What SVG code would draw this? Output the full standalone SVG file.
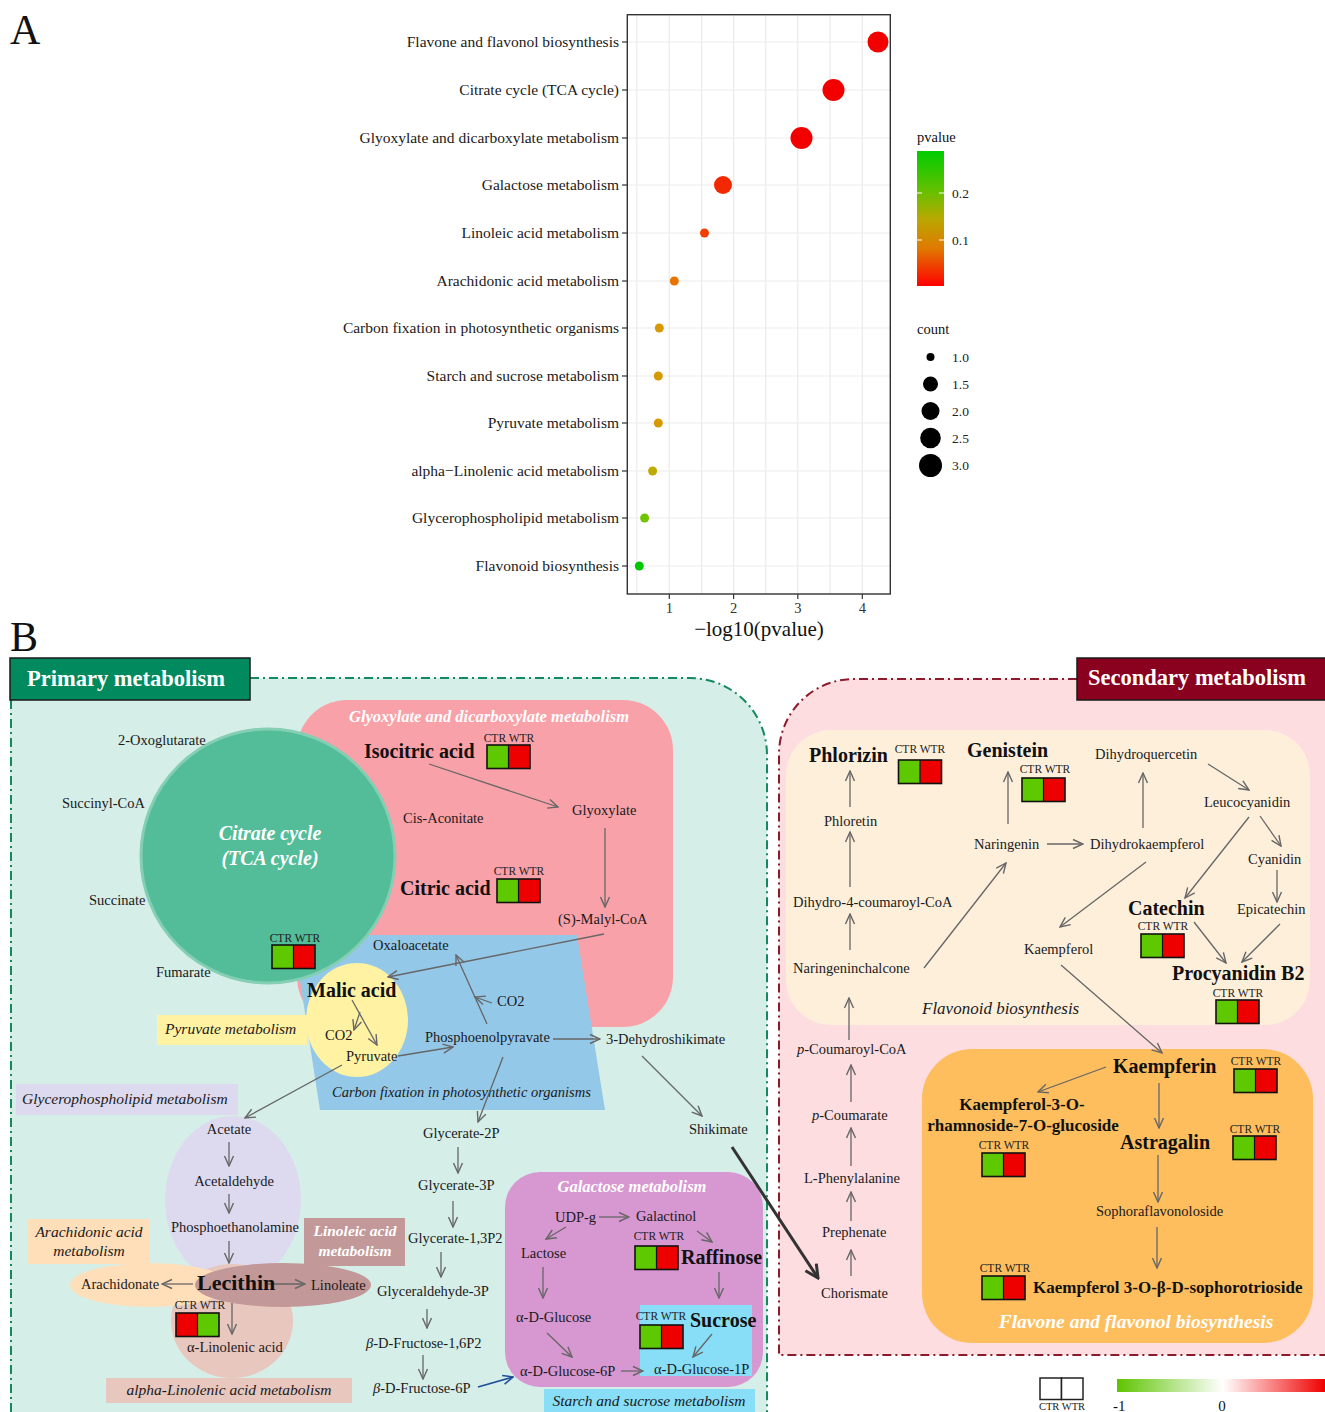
<svg xmlns="http://www.w3.org/2000/svg" xmlns:xlink="http://www.w3.org/1999/xlink" width="1325" height="1412" viewBox="0 0 1325 1412">
<defs>
<style>
text{font-family:"Liberation Serif","Times New Roman",serif}
.n{font-size:14.5px;fill:#1a1a1a}
.bd{font-size:20px;font-weight:bold;fill:#111}
.ct{font-size:11.5px;fill:#222;text-anchor:middle}
.pi{font-size:15.5px;font-style:italic;fill:#1a1a1a}
.pw{font-style:italic;font-weight:bold;fill:#fff}
.ax{font-size:15.5px;fill:#1a1a1a;text-anchor:end}
.mid{text-anchor:middle}
.ar{fill:none;stroke:#666;stroke-width:1.3;marker-end:url(#ah)}
.grid{stroke:#EBEBEB;stroke-width:1.2}
.tick{stroke:#333;stroke-width:1.2}
</style>
<marker id="ah" viewBox="0 0 12 12" refX="11" refY="6" markerWidth="12" markerHeight="12" orient="auto" markerUnits="userSpaceOnUse">
<path d="M1,1.5 L11,6 L1,10.5" fill="none" stroke="#666" stroke-width="1.4"/>
</marker>
<marker id="ahk" viewBox="0 0 16 16" refX="14" refY="8" markerWidth="16" markerHeight="16" orient="auto" markerUnits="userSpaceOnUse">
<path d="M1,1.5 L14,8 L1,14.5" fill="none" stroke="#333" stroke-width="3"/>
</marker>
<marker id="ahb" viewBox="0 0 12 12" refX="11" refY="6" markerWidth="12" markerHeight="12" orient="auto" markerUnits="userSpaceOnUse">
<path d="M1,1.5 L11,6 L1,10.5" fill="none" stroke="#1F4E9A" stroke-width="1.6"/>
</marker>
<linearGradient id="pv" x1="0" y1="0" x2="0" y2="1">
<stop offset="0" stop-color="#00CC00"/>
<stop offset="0.3" stop-color="#66C000"/>
<stop offset="0.5" stop-color="#B8A800"/>
<stop offset="0.72" stop-color="#E07A00"/>
<stop offset="1" stop-color="#FF0000"/>
</linearGradient>
<linearGradient id="fc" x1="0" y1="0" x2="1" y2="0">
<stop offset="0" stop-color="#5EC400"/>
<stop offset="0.51" stop-color="#FFFFFF"/>
<stop offset="1" stop-color="#F00000"/>
</linearGradient>
<g id="cwgr">
<rect x="0" y="0" width="21.5" height="23.5" fill="#5EC800"/>
<rect x="21.5" y="0" width="21.5" height="23.5" fill="#EE0000"/>
<rect x="0" y="0" width="43" height="23.5" fill="none" stroke="#111" stroke-width="1.6"/>
<line x1="21.5" y1="0" x2="21.5" y2="23.5" stroke="#111" stroke-width="1.2"/>
</g>
<g id="cwrg">
<rect x="0" y="0" width="21.5" height="23.5" fill="#EE0000"/>
<rect x="21.5" y="0" width="21.5" height="23.5" fill="#5EC800"/>
<rect x="0" y="0" width="43" height="23.5" fill="none" stroke="#111" stroke-width="1.6"/>
<line x1="21.5" y1="0" x2="21.5" y2="23.5" stroke="#111" stroke-width="1.2"/>
</g>
</defs>
<rect x="0" y="0" width="1325" height="1412" fill="#fff"/>

<!-- ================= PANEL A ================= -->
<g id="panelA">
<text x="10" y="44" style="font-size:42px" fill="#111">A</text>
<rect x="627.3" y="14.7" width="263" height="579.3" fill="#fff"/>
<g id="gridA">
<line class="grid" x1="636.8" y1="15" x2="636.8" y2="594"/>
<line class="grid" x1="669.3" y1="15" x2="669.3" y2="594"/>
<line class="grid" x1="701.6" y1="15" x2="701.6" y2="594"/>
<line class="grid" x1="733.6" y1="15" x2="733.6" y2="594"/>
<line class="grid" x1="765.8" y1="15" x2="765.8" y2="594"/>
<line class="grid" x1="797.8" y1="15" x2="797.8" y2="594"/>
<line class="grid" x1="830" y1="15" x2="830" y2="594"/>
<line class="grid" x1="862.3" y1="15" x2="862.3" y2="594"/>
<line class="grid" x1="627" y1="42" x2="890" y2="42"/>
<line class="grid" x1="627" y1="90" x2="890" y2="90"/>
<line class="grid" x1="627" y1="138" x2="890" y2="138"/>
<line class="grid" x1="627" y1="185" x2="890" y2="185"/>
<line class="grid" x1="627" y1="233" x2="890" y2="233"/>
<line class="grid" x1="627" y1="281" x2="890" y2="281"/>
<line class="grid" x1="627" y1="328" x2="890" y2="328"/>
<line class="grid" x1="627" y1="376" x2="890" y2="376"/>
<line class="grid" x1="627" y1="423" x2="890" y2="423"/>
<line class="grid" x1="627" y1="471" x2="890" y2="471"/>
<line class="grid" x1="627" y1="518" x2="890" y2="518"/>
<line class="grid" x1="627" y1="566" x2="890" y2="566"/>
</g>
<g id="dotsA">
<circle cx="878" cy="42" r="10.5" fill="#F20000"/>
<circle cx="833.5" cy="90" r="11" fill="#F20000"/>
<circle cx="801.5" cy="138" r="11" fill="#F20000"/>
<circle cx="723" cy="185" r="9" fill="#F42800"/>
<circle cx="704.5" cy="233" r="4.5" fill="#F04000"/>
<circle cx="674.3" cy="281" r="4.5" fill="#E87400"/>
<circle cx="659.3" cy="328" r="4.5" fill="#D69A00"/>
<circle cx="658.3" cy="376" r="4.5" fill="#D69A00"/>
<circle cx="658.3" cy="423" r="4.5" fill="#D69A00"/>
<circle cx="652.6" cy="471" r="4.5" fill="#BEAA00"/>
<circle cx="644.6" cy="518" r="4.5" fill="#72C400"/>
<circle cx="639.3" cy="566" r="4.5" fill="#00C800"/>
</g>
<rect x="627.3" y="14.7" width="263" height="579.3" fill="none" stroke="#333" stroke-width="1.4"/>
<g id="ticksA">
<line class="tick" x1="622" y1="42" x2="627" y2="42"/>
<line class="tick" x1="622" y1="90" x2="627" y2="90"/>
<line class="tick" x1="622" y1="138" x2="627" y2="138"/>
<line class="tick" x1="622" y1="185" x2="627" y2="185"/>
<line class="tick" x1="622" y1="233" x2="627" y2="233"/>
<line class="tick" x1="622" y1="281" x2="627" y2="281"/>
<line class="tick" x1="622" y1="328" x2="627" y2="328"/>
<line class="tick" x1="622" y1="376" x2="627" y2="376"/>
<line class="tick" x1="622" y1="423" x2="627" y2="423"/>
<line class="tick" x1="622" y1="471" x2="627" y2="471"/>
<line class="tick" x1="622" y1="518" x2="627" y2="518"/>
<line class="tick" x1="622" y1="566" x2="627" y2="566"/>
<line class="tick" x1="669.3" y1="594" x2="669.3" y2="599"/>
<line class="tick" x1="733.6" y1="594" x2="733.6" y2="599"/>
<line class="tick" x1="797.8" y1="594" x2="797.8" y2="599"/>
<line class="tick" x1="862.3" y1="594" x2="862.3" y2="599"/>
</g>
<g id="labelsA">
<text class="ax" x="619" y="47">Flavone and flavonol biosynthesis</text>
<text class="ax" x="619" y="95">Citrate cycle (TCA cycle)</text>
<text class="ax" x="619" y="143">Glyoxylate and dicarboxylate metabolism</text>
<text class="ax" x="619" y="190">Galactose metabolism</text>
<text class="ax" x="619" y="238">Linoleic acid metabolism</text>
<text class="ax" x="619" y="286">Arachidonic acid metabolism</text>
<text class="ax" x="619" y="333">Carbon fixation in photosynthetic organisms</text>
<text class="ax" x="619" y="381">Starch and sucrose metabolism</text>
<text class="ax" x="619" y="428">Pyruvate metabolism</text>
<text class="ax" x="619" y="476">alpha−Linolenic acid metabolism</text>
<text class="ax" x="619" y="523">Glycerophospholipid metabolism</text>
<text class="ax" x="619" y="571">Flavonoid biosynthesis</text>
<text class="mid" x="669.3" y="613" style="font-size:14.5px" fill="#333">1</text>
<text class="mid" x="733.6" y="613" style="font-size:14.5px" fill="#333">2</text>
<text class="mid" x="797.8" y="613" style="font-size:14.5px" fill="#333">3</text>
<text class="mid" x="862.3" y="613" style="font-size:14.5px" fill="#333">4</text>
<text class="mid" x="759" y="636" style="font-size:21px" fill="#111">−log10(pvalue)</text>
</g>
<g id="legendA">
<text x="917" y="142" style="font-size:14.5px" fill="#111">pvalue</text>
<rect x="917" y="151" width="27" height="135" fill="url(#pv)"/>
<line x1="917" y1="193" x2="922" y2="193" stroke="#fff" stroke-width="1"/>
<line x1="939" y1="193" x2="944" y2="193" stroke="#fff" stroke-width="1"/>
<line x1="917" y1="240" x2="922" y2="240" stroke="#fff" stroke-width="1"/>
<line x1="939" y1="240" x2="944" y2="240" stroke="#fff" stroke-width="1"/>
<text x="952" y="198" style="font-size:13.5px" fill="#222">0.2</text>
<text x="952" y="245" style="font-size:13.5px" fill="#222">0.1</text>
<text x="917" y="334" style="font-size:14.5px" fill="#111">count</text>
<circle cx="930.5" cy="357" r="4" fill="#000"/>
<circle cx="930.5" cy="384" r="7.5" fill="#000"/>
<circle cx="930.5" cy="411" r="9" fill="#000"/>
<circle cx="930.5" cy="438" r="10.3" fill="#000"/>
<circle cx="930.5" cy="465.5" r="11.5" fill="#000"/>
<text x="952" y="362" style="font-size:13.5px" fill="#222">1.0</text>
<text x="952" y="389" style="font-size:13.5px" fill="#222">1.5</text>
<text x="952" y="416" style="font-size:13.5px" fill="#222">2.0</text>
<text x="952" y="443" style="font-size:13.5px" fill="#222">2.5</text>
<text x="952" y="470" style="font-size:13.5px" fill="#222">3.0</text>
</g>
</g>

<!-- ================= PANEL B ================= -->
<text x="10" y="651" style="font-size:42px" fill="#111">B</text>

<!-- Primary region background -->
<g id="primary-region">
<path d="M10,678 H690 A77,77 0 0 1 767,755 V1412 H10 Z" fill="#D5EEE8"/>
<path d="M250,678 H690 A77,77 0 0 1 767,755 V1412" fill="none" stroke="#138A5E" stroke-width="2" stroke-dasharray="9,4,2,4"/>
<path d="M11,700 V1412" fill="none" stroke="#138A5E" stroke-width="2" stroke-dasharray="9,4,2,4"/>
</g>
<!-- Secondary region background -->
<g id="secondary-region">
<path d="M779,1355 V754 A75,75 0 0 1 854,679 H1325 V1355 Z" fill="#FDDDE0"/>
<path d="M1077,679 H854 A75,75 0 0 0 779,754 V1355 H1325" fill="none" stroke="#8B1A2C" stroke-width="2" stroke-dasharray="9,4,2,4"/>
</g>

<!-- pathway shapes -->
<g id="glyoxylate-pathway">
<rect x="297" y="700" width="376" height="327" rx="50" fill="#F9A1A9"/>
<text class="pw mid" x="489" y="722" style="font-size:16.5px">Glyoxylate and dicarboxylate metabolism</text>
</g>
<g id="carbon-fixation-pathway">
<polygon points="293,935 577,935 605,1110 320,1110" fill="#93C8E9"/>
<text class="pi" x="332" y="1097" style="font-size:14.5px">Carbon fixation in photosynthetic organisms</text>
</g>
<g id="tca-pathway">
<circle cx="268" cy="856" r="127" fill="#53BC98" stroke="#84CFB3" stroke-width="3"/>
<text class="pw mid" x="270" y="840" style="font-size:20px">Citrate cycle</text>
<text class="pw mid" x="270" y="865" style="font-size:20px">(TCA cycle)</text>
</g>
<g id="pyruvate-pathway">
<ellipse cx="357" cy="1020" rx="51" ry="57" fill="#FFF2A3"/>
<rect x="157" y="1015" width="150" height="30" fill="#FFF2A3"/>
<text class="pi" x="165" y="1034" style="font-size:15.5px">Pyruvate metabolism</text>
</g>
<g id="glycerophospholipid-pathway">
<rect x="16" y="1084" width="222" height="31" fill="#DDDAF0"/>
<text class="pi" x="22" y="1104">Glycerophospholipid metabolism</text>
<ellipse cx="233" cy="1200" rx="68" ry="84" fill="#DDDAF0"/>
</g>
<g id="alpha-linolenic-pathway">
<ellipse cx="232" cy="1321" rx="61" ry="57" fill="#E8C7BF"/>
<rect x="106" y="1378" width="246" height="25" fill="#E8C7BF"/>
<text class="pi mid" x="229" y="1395">alpha-Linolenic acid metabolism</text>
</g>
<g id="arachidonic-pathway">
<ellipse cx="150" cy="1285" rx="80" ry="22" fill="#FFDFB9"/>
<rect x="28" y="1219" width="122" height="45" fill="#FFDFB9"/>
<text class="pi mid" x="89" y="1237">Arachidonic acid</text>
<text class="pi mid" x="89" y="1256">metabolism</text>
</g>
<g id="linoleic-pathway">
<ellipse cx="283" cy="1285" rx="88" ry="22" fill="#C29898"/>
<rect x="304" y="1218" width="101" height="48" fill="#C29898"/>
<text class="pw mid" x="355" y="1236" style="font-size:15.5px">Linoleic acid</text>
<text class="pw mid" x="355" y="1256" style="font-size:15.5px">metabolism</text>
</g>
<g id="galactose-pathway">
<rect x="505" y="1172" width="258" height="215" rx="35" fill="#D797D1"/>
<text class="pw mid" x="632" y="1192" style="font-size:16.5px">Galactose metabolism</text>
</g>
<g id="starch-sucrose-pathway">
<rect x="640" y="1305" width="112" height="71" fill="#88DEF7"/>
<rect x="544" y="1389" width="211" height="23" fill="#88DEF7"/>
<text class="pi mid" x="649" y="1406">Starch and sucrose metabolism</text>
</g>
<g id="flavonoid-pathway">
<rect x="786" y="730" width="524" height="295" rx="45" fill="#FEEFDB"/>
<text class="pi" x="922" y="1014" style="font-size:17px">Flavonoid biosynthesis</text>
</g>
<g id="flavone-pathway">
<rect x="922" y="1049" width="391" height="294" rx="50" fill="#FEBE5E"/>
<text class="pw mid" x="1136" y="1328" style="font-size:19.5px">Flavone and flavonol biosynthesis</text>
</g>

<!-- titles -->
<g id="primary-title">
<rect x="10" y="658" width="240" height="42" fill="#008A5E" stroke="#1a1a1a" stroke-width="1.5"/>
<text x="27" y="686" style="font-size:22.5px;font-weight:bold" fill="#fff">Primary metabolism</text>
</g>
<g id="secondary-title">
<rect x="1077" y="658" width="250" height="42" fill="#8A001F" stroke="#1a1a1a" stroke-width="1.5"/>
<text x="1088" y="685" style="font-size:22.5px;font-weight:bold" fill="#fff">Secondary metabolism</text>
</g>

<!-- ================= CONNECTORS ================= -->
<g id="connectors">
<line class="ar" x1="429" y1="764" x2="558" y2="807"/>
<line class="ar" x1="605" y1="828" x2="605" y2="907"/>
<line class="ar" x1="604" y1="934" x2="388" y2="977"/>
<line class="ar" x1="352" y1="1000" x2="377" y2="1045"/>
<line class="ar" x1="360" y1="1012" x2="354" y2="1030"/>
<line class="ar" x1="398" y1="1056" x2="453" y2="1047"/>
<line class="ar" x1="487" y1="1024" x2="456" y2="955"/>
<line class="ar" x1="492" y1="1003" x2="475" y2="997"/>
<line class="ar" x1="553" y1="1039" x2="600" y2="1039"/>
<line class="ar" x1="503" y1="1057" x2="478" y2="1122"/>
<line class="ar" x1="642" y1="1056" x2="702" y2="1116"/>
<line x1="732" y1="1147" x2="818" y2="1278" fill="none" stroke="#333" stroke-width="3" marker-end="url(#ahk)"/>
<line class="ar" x1="342" y1="1065" x2="245" y2="1118"/>
<line class="ar" x1="229" y1="1142" x2="229" y2="1166"/>
<line class="ar" x1="229" y1="1194" x2="229" y2="1213"/>
<line class="ar" x1="229" y1="1241" x2="229" y2="1263"/>
<line class="ar" x1="193" y1="1284" x2="162" y2="1284"/>
<line class="ar" x1="268" y1="1284" x2="305" y2="1284"/>
<line class="ar" x1="232" y1="1303" x2="232" y2="1334"/>
<line class="ar" x1="458" y1="1147" x2="458" y2="1173"/>
<line class="ar" x1="453" y1="1201" x2="453" y2="1227"/>
<line class="ar" x1="441" y1="1252" x2="441" y2="1277"/>
<line class="ar" x1="427" y1="1309" x2="427" y2="1328"/>
<line class="ar" x1="423" y1="1355" x2="423" y2="1379"/>
<line x1="478" y1="1387" x2="513" y2="1377" fill="none" stroke="#1F4E9A" stroke-width="1.6" marker-end="url(#ahb)"/>
<line class="ar" x1="599" y1="1217" x2="629" y2="1217"/>
<line class="ar" x1="566" y1="1227" x2="546" y2="1239"/>
<line class="ar" x1="697" y1="1231" x2="712" y2="1242"/>
<line class="ar" x1="543" y1="1267" x2="543" y2="1298"/>
<line class="ar" x1="719" y1="1272" x2="719" y2="1298"/>
<line class="ar" x1="547" y1="1333" x2="572" y2="1357"/>
<line class="ar" x1="712" y1="1334" x2="693" y2="1357"/>
<line class="ar" x1="621" y1="1371" x2="643" y2="1371"/>
<line class="ar" x1="1008" y1="824" x2="1008" y2="772"/>
<line class="ar" x1="1143" y1="828" x2="1143" y2="773"/>
<line class="ar" x1="1208" y1="764" x2="1249" y2="790"/>
<line class="ar" x1="1260" y1="816" x2="1281" y2="846"/>
<line class="ar" x1="1249" y1="817" x2="1185" y2="898"/>
<line class="ar" x1="1277" y1="870" x2="1277" y2="902"/>
<line class="ar" x1="1194" y1="922" x2="1226" y2="963"/>
<line class="ar" x1="1280" y1="924" x2="1242" y2="962"/>
<line class="ar" x1="1047" y1="844" x2="1083" y2="844"/>
<line class="ar" x1="1146" y1="862" x2="1060" y2="927"/>
<line class="ar" x1="1061" y1="965" x2="1162" y2="1053"/>
<line class="ar" x1="850" y1="807" x2="850" y2="771"/>
<line class="ar" x1="850" y1="887" x2="850" y2="832"/>
<line class="ar" x1="850" y1="950" x2="850" y2="914"/>
<line class="ar" x1="924" y1="968" x2="1006" y2="863"/>
<line class="ar" x1="849" y1="1040" x2="849" y2="998"/>
<line class="ar" x1="851" y1="1102" x2="851" y2="1065"/>
<line class="ar" x1="851" y1="1166" x2="851" y2="1128"/>
<line class="ar" x1="851" y1="1221" x2="851" y2="1192"/>
<line class="ar" x1="851" y1="1276" x2="851" y2="1250"/>
<line class="ar" x1="1106" y1="1067" x2="1038" y2="1092"/>
<line class="ar" x1="1159" y1="1083" x2="1159" y2="1128"/>
<line class="ar" x1="1158" y1="1155" x2="1158" y2="1202"/>
<line class="ar" x1="1157" y1="1227" x2="1157" y2="1268"/>
</g>

<!-- ================= NODES ================= -->
<g id="n-2oxoglutarate"><text class="n" x="118" y="745">2-Oxoglutarate</text></g>
<g id="n-succinylcoa"><text class="n" x="62" y="808">Succinyl-CoA</text></g>
<g id="n-succinate"><text class="n" x="89" y="905">Succinate</text></g>
<g id="n-fumarate"><text class="n" x="156" y="977">Fumarate</text></g>
<g id="n-tca-box"><text class="ct" x="295" y="942">CTR WTR</text><use xlink:href="#cwgr" x="272" y="945"/></g>
<g id="n-isocitric"><text class="bd" x="364" y="758">Isocitric acid</text><text class="ct" x="509" y="742">CTR WTR</text><use xlink:href="#cwgr" x="487" y="745"/></g>
<g id="n-cisaconitate"><text class="n" x="403" y="823">Cis-Aconitate</text></g>
<g id="n-glyoxylate"><text class="n" x="572" y="815">Glyoxylate</text></g>
<g id="n-citric"><text class="bd" x="400" y="895">Citric acid</text><text class="ct" x="519" y="875">CTR WTR</text><use xlink:href="#cwgr" x="497" y="879"/></g>
<g id="n-malylcoa"><text class="n" x="558" y="924">(S)-Malyl-CoA</text></g>
<g id="n-oxaloacetate"><text class="n" x="373" y="950">Oxaloacetate</text></g>
<g id="n-co2a"><text class="n" x="497" y="1006">CO2</text></g>
<g id="n-malic"><text class="bd" x="307" y="997">Malic acid</text></g>
<g id="n-co2b"><text class="n" x="325" y="1040">CO2</text></g>
<g id="n-pyruvate"><text class="n" x="346" y="1061">Pyruvate</text></g>
<g id="n-pep"><text class="n" x="425" y="1042">Phosphoenolpyravate</text></g>
<g id="n-dehydroshikimate"><text class="n" x="606" y="1044">3-Dehydroshikimate</text></g>
<g id="n-shikimate"><text class="n" x="689" y="1134">Shikimate</text></g>
<g id="n-acetate"><text class="n mid" x="229" y="1134">Acetate</text></g>
<g id="n-acetaldehyde"><text class="n mid" x="234" y="1186">Acetaldehyde</text></g>
<g id="n-phosphoethanolamine"><text class="n mid" x="235" y="1232">Phosphoethanolamine</text></g>
<g id="n-lecithin"><text x="197" y="1290" style="font-size:22px;font-weight:bold" fill="#111">Lecithin</text><text class="ct" x="200" y="1309">CTR WTR</text><use xlink:href="#cwrg" x="176" y="1313"/></g>
<g id="n-arachidonate"><text class="n" x="81" y="1289">Arachidonate</text></g>
<g id="n-linoleate"><text class="n" x="311" y="1290">Linoleate</text></g>
<g id="n-alinolenic"><text class="n" x="187" y="1352">α-Linolenic acid</text></g>
<g id="n-glycerate2p"><text class="n" x="423" y="1138">Glycerate-2P</text></g>
<g id="n-glycerate3p"><text class="n" x="418" y="1190">Glycerate-3P</text></g>
<g id="n-glycerate13p2"><text class="n" x="408" y="1243">Glycerate-1,3P2</text></g>
<g id="n-glyceraldehyde3p"><text class="n" x="377" y="1296">Glyceraldehyde-3P</text></g>
<g id="n-fructose16p2"><text class="n" x="366" y="1348"><tspan font-style="italic">β</tspan>-D-Fructose-1,6P2</text></g>
<g id="n-fructose6p"><text class="n" x="373" y="1393"><tspan font-style="italic">β</tspan>-D-Fructose-6P</text></g>
<g id="n-udpg"><text class="n" x="555" y="1222">UDP-g</text></g>
<g id="n-galactinol"><text class="n" x="636" y="1221">Galactinol</text></g>
<g id="n-lactose"><text class="n" x="521" y="1258">Lactose</text></g>
<g id="n-raffinose"><text class="ct" x="659" y="1240">CTR WTR</text><use xlink:href="#cwgr" x="635" y="1246"/><text class="bd" x="681" y="1264">Raffinose</text></g>
<g id="n-aglucose"><text class="n" x="516" y="1322">α-D-Glucose</text></g>
<g id="n-sucrose"><text class="ct" x="661" y="1320">CTR WTR</text><use xlink:href="#cwgr" x="640" y="1325"/><text class="bd" x="690" y="1327">Sucrose</text></g>
<g id="n-glucose6p"><text class="n" x="520" y="1376">α-D-Glucose-6P</text></g>
<g id="n-glucose1p"><text class="n" x="654" y="1374">α-D-Glucose-1P</text></g>

<g id="n-phlorizin"><text class="bd" x="809" y="762">Phlorizin</text><text class="ct" x="920" y="753">CTR WTR</text><use xlink:href="#cwgr" x="898.5" y="760"/></g>
<g id="n-genistein"><text class="bd" x="967" y="757">Genistein</text><text class="ct" x="1045" y="773">CTR WTR</text><use xlink:href="#cwgr" x="1022" y="778"/></g>
<g id="n-dihydroquercetin"><text class="n" x="1095" y="759">Dihydroquercetin</text></g>
<g id="n-leucocyanidin"><text class="n" x="1204" y="807">Leucocyanidin</text></g>
<g id="n-cyanidin"><text class="n" x="1248" y="864">Cyanidin</text></g>
<g id="n-epicatechin"><text class="n" x="1237" y="914">Epicatechin</text></g>
<g id="n-catechin"><text class="bd" x="1128" y="915">Catechin</text><text class="ct" x="1163" y="930">CTR WTR</text><use xlink:href="#cwgr" x="1141" y="934"/></g>
<g id="n-procyanidin"><text class="bd" x="1172" y="980">Procyanidin B2</text><text class="ct" x="1238" y="997">CTR WTR</text><use xlink:href="#cwgr" x="1216" y="1000"/></g>
<g id="n-naringenin"><text class="n" x="974" y="849">Naringenin</text></g>
<g id="n-dihydrokaempferol"><text class="n" x="1090" y="849">Dihydrokaempferol</text></g>
<g id="n-kaempferol"><text class="n" x="1024" y="954">Kaempferol</text></g>
<g id="n-phloretin"><text class="n" x="824" y="826">Phloretin</text></g>
<g id="n-dihydrocoumaroyl"><text class="n" x="793" y="907">Dihydro-4-coumaroyl-CoA</text></g>
<g id="n-naringeninchalcone"><text class="n" x="793" y="973">Naringeninchalcone</text></g>
<g id="n-coumaroylcoa"><text class="n" x="797" y="1054"><tspan font-style="italic">p</tspan>-Coumaroyl-CoA</text></g>
<g id="n-coumarate"><text class="n" x="812" y="1120"><tspan font-style="italic">p</tspan>-Coumarate</text></g>
<g id="n-phenylalanine"><text class="n" x="804" y="1183">L-Phenylalanine</text></g>
<g id="n-prephenate"><text class="n" x="822" y="1237">Prephenate</text></g>
<g id="n-chorismate"><text class="n" x="821" y="1298">Chorismate</text></g>
<g id="n-kaempferin"><text class="bd" x="1113" y="1073">Kaempferin</text><text class="ct" x="1256" y="1065">CTR WTR</text><use xlink:href="#cwgr" x="1234" y="1069"/></g>
<g id="n-k3r7g"><text class="mid" x="1022" y="1110" style="font-size:17px;font-weight:bold" fill="#111">Kaempferol-3-O-</text><text class="mid" x="1023" y="1131" style="font-size:17px;font-weight:bold" fill="#111">rhamnoside-7-O-glucoside</text><text class="ct" x="1004" y="1149">CTR WTR</text><use xlink:href="#cwgr" x="982" y="1153"/></g>
<g id="n-astragalin"><text class="bd" x="1120" y="1149">Astragalin</text><text class="ct" x="1255" y="1133">CTR WTR</text><use xlink:href="#cwgr" x="1233" y="1136"/></g>
<g id="n-sophoraflavonoloside"><text class="n" x="1096" y="1216">Sophoraflavonoloside</text></g>
<g id="n-ksophorotrioside"><text class="ct" x="1005" y="1272">CTR WTR</text><use xlink:href="#cwgr" x="982" y="1276"/><text x="1033" y="1293" style="font-size:17px;font-weight:bold" fill="#111">Kaempferol 3-O-β-D-sophorotrioside</text></g>

<!-- legend B -->
<g id="legendB">
<rect x="1040" y="1378" width="21.5" height="21.5" fill="#fff" stroke="#222" stroke-width="1.5"/>
<rect x="1061.5" y="1378" width="21.5" height="21.5" fill="#fff" stroke="#222" stroke-width="1.5"/>
<text class="ct" x="1062" y="1410" style="font-size:10.5px">CTR WTR</text>
<rect x="1117" y="1379" width="208" height="13" fill="url(#fc)"/>
<text x="1113" y="1411" style="font-size:15px" fill="#111">-1</text>
<text class="mid" x="1222" y="1411" style="font-size:15px" fill="#111">0</text>
</g>
</svg>
